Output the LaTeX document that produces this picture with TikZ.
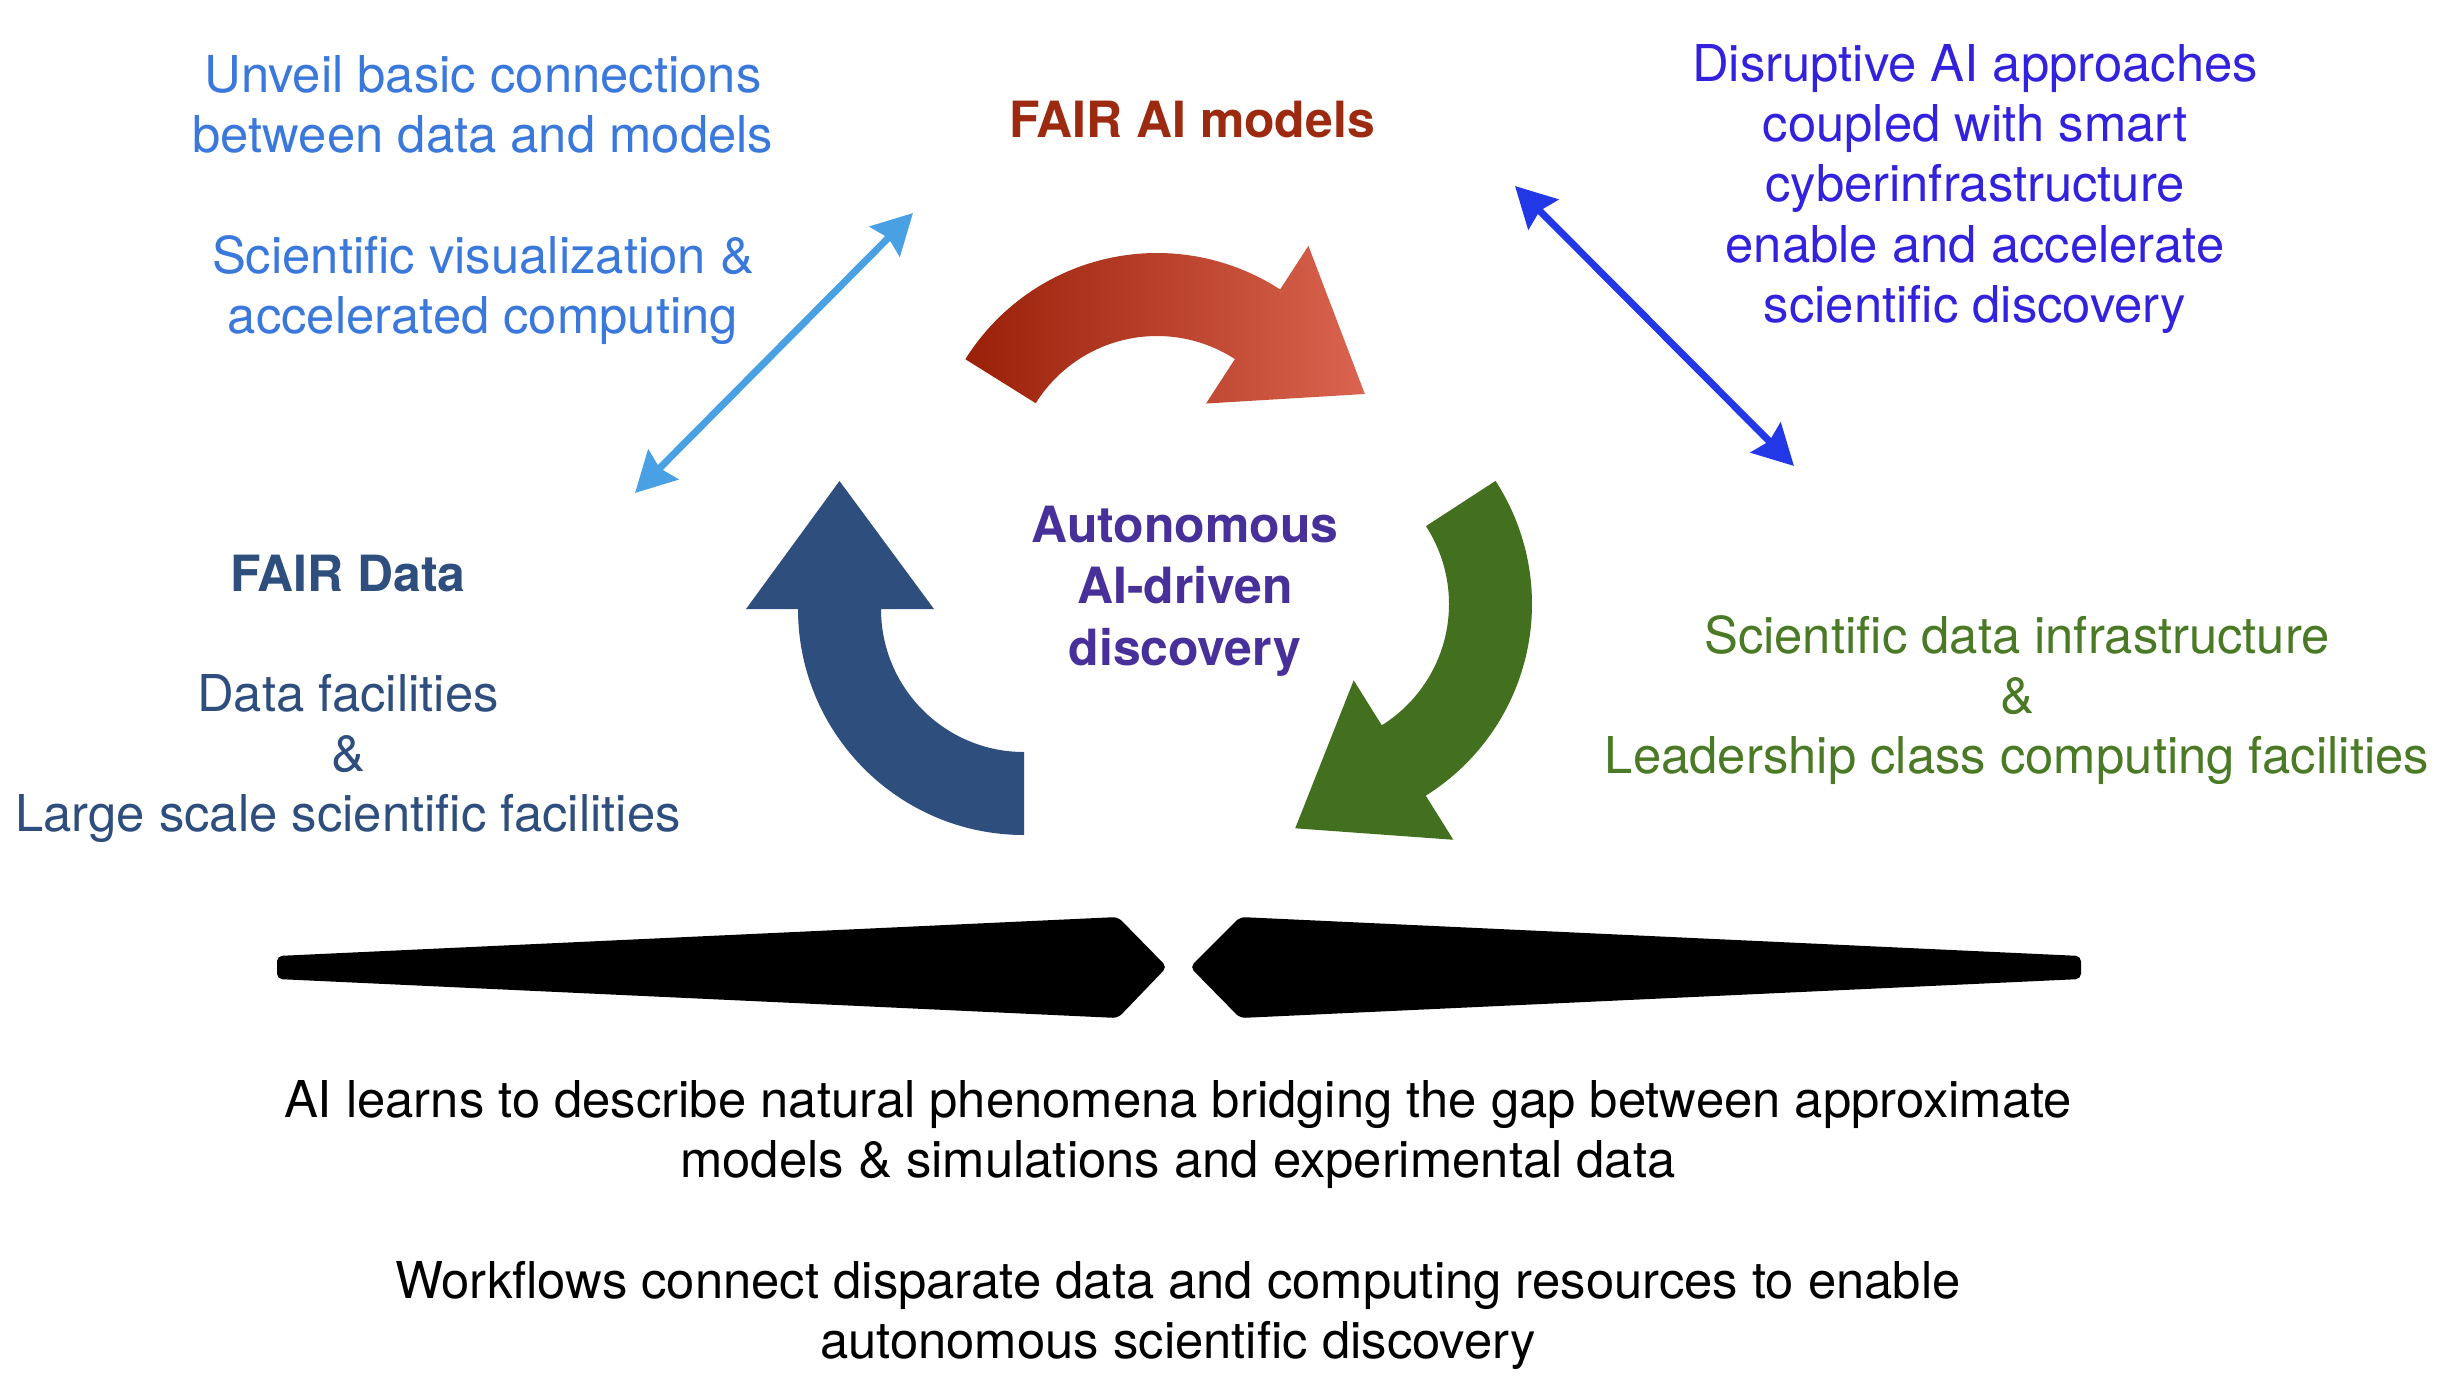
\documentclass[tikz,border=0pt]{standalone}
\usepackage{fontspec}
\setmainfont{TeX Gyre Heros}
\usepackage{tikz}
\usetikzlibrary{arrows.meta,calc}
\pgfdeclarelayer{edgelayer}
\pgfdeclarelayer{nodelayer}
\pgfsetlayers{edgelayer,nodelayer,main}
\definecolor{skyblue}{HTML}{3A78DC}
\definecolor{linkblue}{HTML}{49A1E3}
\definecolor{violetblue}{HTML}{3322DD}
\definecolor{deepblue}{HTML}{2238E6}
\definecolor{modelred}{HTML}{9B2A10}
\definecolor{redtail}{HTML}{9A2008}
\definecolor{redhead}{HTML}{DA6450}
\definecolor{datablue}{HTML}{2E4E7E}
\definecolor{loopgreen}{HTML}{43701E}
\definecolor{infragreen}{HTML}{4A7A25}
\definecolor{centerpurple}{HTML}{48309A}
\tikzstyle{textblock}=[inner sep=0pt, anchor=north, align=center, font=\fontsize{14.45}{17.1}\selectfont]
\tikzstyle{boldblock}=[textblock, font=\fontsize{14.2}{17.6}\selectfont\bfseries]
\tikzstyle{link}=[line width=2pt, {Stealth[length=0.40cm,width=0.42cm,inset=0.05cm]}-{Stealth[length=0.40cm,width=0.42cm,inset=0.05cm]}]
\newcommand{\turnarrow}[4]{%
  \path[#4] ($(#1)+(#2:2.26)$) arc[start angle=#2, end angle=#3, radius=2.26]
    -- ($(#1)+(#3:2.78)$) -- ($(#1)+(#3:1.845)+(#3-90:1.28)$)
    -- ($(#1)+(#3:0.90)$) -- ($(#1)+(#3:1.43)$)
    arc[start angle=#3, end angle=#2, radius=1.43] -- cycle;}

\begin{document}
\begin{tikzpicture}
	\useasboundingbox (0,0) rectangle (24.44,-13.82);
	\begin{pgfonlayer}{nodelayer}

	%texts
		\node [style=textblock, text=skyblue] (basics) at (4.83,-0.55) {Unveil basic connections\\between data and models\\[17.1pt]Scientific visualization \&\\accelerated computing};
		\node [style=boldblock, text=modelred] (aimodels) at (11.92,-1.00) {FAIR AI models};
		\node [style=textblock, text=violetblue] (disrupt) at (19.75,-0.44) {Disruptive AI approaches\\coupled with smart\\cyberinfrastructure\\enable and accelerate\\scientific discovery};
		\node [style=textblock, text=datablue] (fairdata) at (3.48,-5.54) {\textbf{\fontsize{14.2}{17.1}\selectfont FAIR Data}\\[17.1pt]Data facilities\\\&\\Large scale scientific facilities};
		\node [style=boldblock, text=centerpurple] (autonomous) at (11.85,-5.05) {Autonomous\\AI-driven\\discovery};
		\node [style=textblock, text=infragreen] (infra) at (20.17,-6.15) {Scientific data infrastructure\\\&\\Leadership class computing facilities};
		\node [style=textblock] (learns) at (11.78,-10.80) {AI learns to describe natural phenomena bridging the gap between approximate\\models \& simulations and experimental data\\[17.1pt]Workflows connect disparate data and computing resources to enable\\autonomous scientific discovery};

	%link ends
		\coordinate (dataend) at (6.35,-4.93);
		\coordinate (modelend) at (9.13,-2.13);
		\coordinate (cyberend) at (15.15,-1.86);
		\coordinate (infraend) at (17.94,-4.66);

	%loop centres
		\coordinate (redc) at (11.57,-4.79);
		\coordinate (greenc) at (13.06,-6.04);
		\coordinate (bluec) at (10.24,-6.09);

	\end{pgfonlayer}
	\begin{pgfonlayer}{edgelayer}

	%cycle
		\turnarrow{redc}{148}{57}{left color=redtail, right color=redhead}
		\turnarrow{greenc}{33}{-58}{fill=loopgreen}
		\turnarrow{bluec}{-90}{-180}{fill=datablue}

	%links
		\draw [style=link, draw=linkblue, fill=linkblue] (dataend) to (modelend);
		\draw [style=link, draw=deepblue, fill=deepblue] (cyberend) to (infraend);

	%bridge
		\fill [rounded corners=1.5pt] (2.77,-9.56) -- (11.18,-9.17) -- (11.67,-9.67) -- (11.18,-10.18) -- (2.77,-9.79) -- cycle;
		\fill [rounded corners=1.5pt] (20.81,-9.56) -- (12.40,-9.17) -- (11.90,-9.67) -- (12.40,-10.18) -- (20.81,-9.79) -- cycle;

	\end{pgfonlayer}
\end{tikzpicture}
\end{document}
